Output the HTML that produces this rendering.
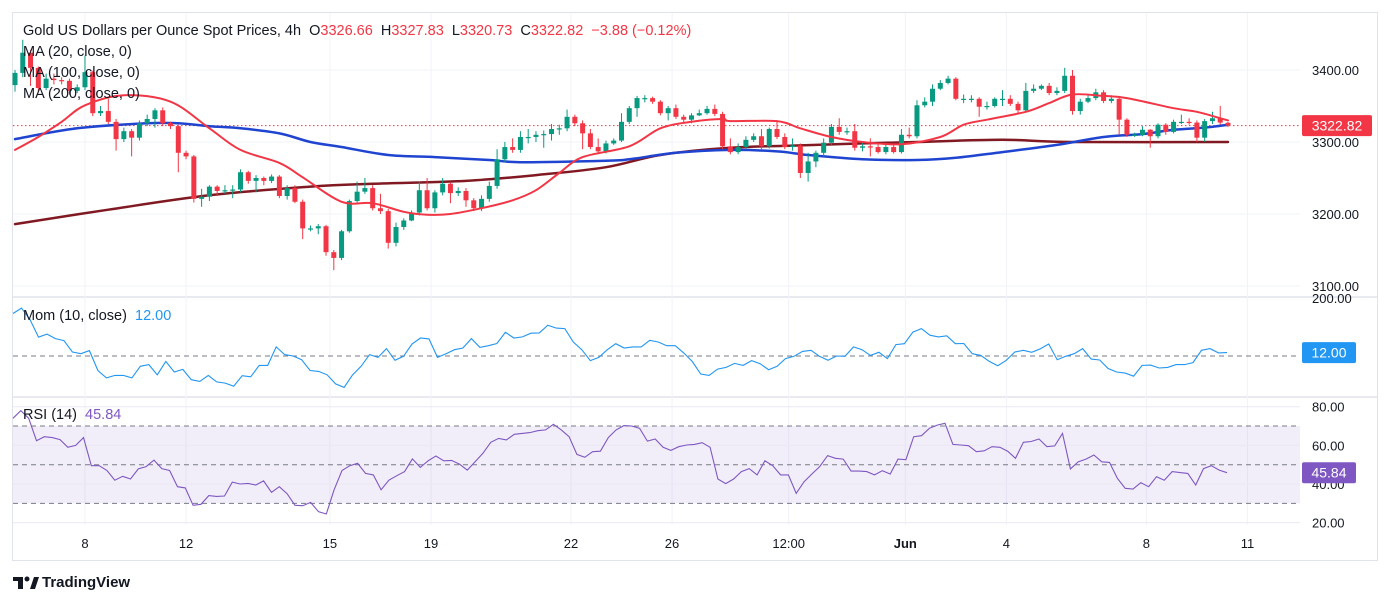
<!DOCTYPE html>
<html><head><meta charset="utf-8"><style>
body{margin:0;background:#fff;width:1390px;height:605px;overflow:hidden;font-family:"Liberation Sans",sans-serif;}
#wrap{position:relative;width:1390px;height:605px;}
svg text{font-family:"Liberation Sans",sans-serif;}
.lg{position:absolute;left:23px;font-size:14.5px;color:#131722;white-space:nowrap;}
.r{color:#f23645}
</style></head><body>
<div id="wrap">
<svg id="chart" width="1390" height="605"></svg>
<div class="lg" style="top:23px">Gold US Dollars per Ounce Spot Prices, 4h&nbsp;&nbsp;O<span class="r">3326.66</span>&nbsp;&nbsp;H<span class="r">3327.83</span>&nbsp;&nbsp;L<span class="r">3320.73</span>&nbsp;&nbsp;C<span class="r">3322.82</span>&nbsp;&nbsp;<span class="r">−3.88 (−0.12%)</span></div>
<div class="lg" style="top:44px">MA (20, close, 0)</div>
<div class="lg" style="top:65px">MA (100, close, 0)</div>
<div class="lg" style="top:86px">MA (200, close, 0)</div>
<div class="lg" style="top:308px">Mom (10, close)&nbsp;&nbsp;<span style="color:#2196f3">12.00</span></div>
<div class="lg" style="top:407px">RSI (14)&nbsp;&nbsp;<span style="color:#7e57c2">45.84</span></div>
<div style="position:absolute;left:13px;top:574px;height:18px;">
<svg width="26" height="16" style="position:absolute;left:0;top:1px"><rect x="0" y="2" width="10" height="4" fill="#131722"/><rect x="5" y="2" width="5" height="12" fill="#131722"/><circle cx="14" cy="4" r="2.5" fill="#131722"/><polygon points="17,14 21,2 26,2 22,14" fill="#131722"/></svg>
<span style="position:absolute;left:29px;top:0;font-size:15px;font-weight:bold;color:#131722;">TradingView</span></div>
</div>
<script>
const closes=[3396,3424,3403,3375,3388,3386,3385,3371,3376,3397,3340,3343,3328,3304,3315,3306,3326,3332,3344,3326,3322,3285,3280,3221,3224,3238,3232,3233,3234,3258,3246,3250,3246,3252,3225,3236,3217,3180,3180,
3183,3147,3139,3176,3218,3231,3236,3208,3204,3160,3182,3191,3202,3233,3208,3230,3242,3229,3232,3219,3208,3221,3239,3276,3293,3289,3307,3307,3310,3311,3318,3319,3335,3326,3312,3293,3287,
3298,3302,3328,3347,3361,3361,3356,3340,3347,3335,3331,3337,3340,3346,3339,3294,3286,3293,3303,3308,3294,3318,3307,3293,3295,3257,3273,3285,3299,3321,3314,3315,3292,3294,3293,3286,3293,3286,3310,3308,
3351,3356,3374,3382,3388,3360,3360,3360,3349,3350,3360,3360,3353,3344,3371,3374,3378,3368,3371,3392,3343,3356,3361,3369,3357,3360,3331,3310,3310,3317,3308,3324,3314,3328,3328,3327,3306,3329,3333,3327,3322.82];
const opensFirst=3379;
const opensLast=3326.66;
const highs=[3400,3442,3428,3405,3395,3395,3390,3388,3380,3420,3399,3350,3360,3332,3320,3318,3330,3338,3347,3348,3328,3324,3288,3282,3235,3240,3240,3240,3240,3262,3260,3254,3252,3255,3254,3240,3240,3220,3184,
3186,3185,3150,3178,3220,3245,3250,3240,3228,3207,3188,3194,3205,3245,3250,3233,3250,3244,3237,3236,3222,3226,3245,3290,3300,3305,3315,3318,3315,3316,3325,3324,3345,3338,3330,3318,3305,
3302,3305,3340,3350,3364,3365,3363,3358,3350,3352,3338,3340,3345,3350,3352,3342,3305,3298,3308,3312,3318,3320,3330,3312,3305,3298,3285,3288,3305,3325,3333,3320,3325,3300,3305,3297,3296,3297,3318,3320,
3358,3362,3380,3386,3392,3390,3366,3365,3362,3356,3362,3372,3365,3356,3382,3380,3380,3382,3376,3403,3400,3360,3365,3374,3372,3365,3362,3333,3313,3322,3318,3326,3326,3331,3338,3333,3330,3332,3342,3350,3327.83];
const lows=[3370,3390,3378,3370,3372,3380,3380,3366,3368,3372,3336,3336,3325,3288,3300,3280,3302,3322,3320,3322,3318,3258,3276,3216,3210,3218,3225,3228,3222,3230,3242,3230,3240,3243,3222,3220,3215,3165,3176,
3172,3142,3122,3136,3174,3215,3228,3205,3200,3152,3155,3178,3190,3198,3205,3202,3226,3215,3225,3210,3204,3204,3217,3235,3272,3285,3285,3298,3300,3292,3302,3310,3315,3322,3290,3290,3283,
3284,3296,3300,3325,3335,3355,3353,3337,3330,3332,3326,3326,3336,3338,3336,3290,3283,3283,3290,3300,3290,3291,3304,3290,3288,3250,3245,3265,3280,3296,3310,3310,3288,3287,3280,3284,3283,3284,3284,3305,
3305,3348,3350,3372,3380,3358,3354,3355,3335,3345,3348,3350,3350,3340,3342,3368,3372,3365,3365,3368,3338,3338,3354,3358,3354,3354,3310,3307,3307,3308,3292,3305,3310,3312,3325,3324,3300,3300,3325,3324,3320.73];
const ma20Bars=[0,3,6,9,14,20,25,29,34,37,42,46,50,53,56,60,64,67,70,73,79,83,87,91,92,98,101,105,109,114,119,122,125,130,133,136,140,143,149,152,155,156];
const ma20Vals=[3289,3307,3328,3351,3365,3356,3319,3289,3271,3251,3217,3215,3203,3199,3200,3208,3219,3233,3257,3279,3294,3319,3328,3332,3329,3329,3319,3307,3300,3297,3307,3324,3331,3342,3354,3366,3364,3361,3347,3342,3333,3330];
const ma100Bars=[0,8,17,21,25,29,34,38,42,48,54,61,65,76,79,85,92,98,102,109,116,121,127,134,140,145,149,153,156];
const ma100Vals=[3304,3319,3326,3326,3322,3319,3312,3300,3293,3282,3279,3275,3272,3274,3276,3285,3289,3287,3282,3276,3275,3278,3286,3296,3307,3311,3317,3320,3324];
const ma200Bars=[0,12,25,38,46,58,67,76,83,92,100,109,116,127,136,156];
const ma200Vals=[3186,3206,3226,3238,3242,3246,3254,3265,3282,3292,3295,3298,3300,3303,3300,3300];
const momVals=[149,168,128,66,77,61,54,14,8,19,-51,-77,-68,-68,-77,-36,-30,-66,-19,-56,-47,-83,-89,-68,-91,-95,-106,-69,-73,-33,-33,32,5,0,-13,-51,-54,-66,-98,-110,-66,-36,5,-5,26,-15,-1,42,63,60,-5,8,22,28,61,30,36,44,83,63,67,80,81,108,98,96,49,22,-16,-5,22,43,28,32,32,55,49,36,36,11,
-19,-63,-68,-46,-40,-26,-33,-16,-27,-48,-36,-9,-1,16,20,-1,-15,0,-1,32,22,2,13,-9,40,43,84,96,73,67,71,43,44,8,2,-19,-34,-15,14,20,13,25,42,-13,-1,8,26,-11,-14,-44,-56,-60,-71,-33,-32,-42,-40,-30,-30,-23,20,26,11,12];
const rsiVals=[74,78,74,62.4,64.5,64,63,59,60,64,49.5,49.5,47,42,44,42.6,47.8,49,52.4,48,47,38.6,38,29,29.5,34,33.6,33.8,41,40,40.3,39.5,41.6,35.7,38.6,35,29,28.8,30.5,25.7,24.5,37,47,49.5,50.7,45.5,44.7,37,42,44.3,46.4,53,48.6,52,54.5,52,52.2,50.3,47.2,51.5,55.9,61.6,63.6,62.8,65.7,66.2,66.6,67.6,68,70.9,68,64.5,55.3,53.8,56.7,57,64,68,70.2,70,68.8,62.2,63.3,59,57.4,59.3,60.2,
60.5,61.4,59,42.6,40.2,42.6,46.4,48,44.7,52,49.5,44.7,44.7,35.2,41.2,45.2,49,54.7,53.3,52.9,46.7,46.7,46.4,44.7,46.9,45.2,52.9,52.6,64.5,65,68.8,70.5,71.4,60.5,60.2,59.8,56.7,57.2,59.3,59,57,53.3,61.6,62,63.3,59.3,59.7,66.2,47.8,51.5,52.9,55,51.5,51.2,43,37.8,37.4,40.7,38.6,43.8,42,46.4,45.9,45.5,39.5,48,49.5,47.2,45.84];
const priceTicks=[3400,3300,3200,3100];
const rsiTicks=[80,60,40,20];
const rsiLevels=[70,50,30];
const dateLabels=["8","12","15","19","22","26","12:00","Jun","4","8","11"];
const dateBars=[9,22,40.5,53.5,71.5,84.5,99.5,114.5,127.5,145.5,158.5];
const lastPrice=3322.82;
const lastMom=12.00;
const lastRsi=45.84;

const NS="http://www.w3.org/2000/svg";
const svg=document.getElementById('chart');
const X0=15,X1=1228,N=closes.length;
function xOf(i){return X0+i*(X1-X0)/(N-1);}
function yP(p){return 70+(3400-p)*0.72;}
function yM(v){return 356-v*0.285;}
function yR(v){return 406.7+(80-v)*1.933;}
function mk(tag,attrs,parent){const e=document.createElementNS(NS,tag);for(const k in attrs)e.setAttribute(k,attrs[k]);(parent||svg).appendChild(e);return e;}

const frame=mk('rect',{x:12.5,y:12.5,width:1365,height:548,fill:'none',stroke:'#e0e3eb'});


[297,397].forEach(y=>{const l=mk('line',{x1:13,x2:1377,y1:y,y2:y,stroke:'#e0e3eb','stroke-width':1.5});

});

dateBars.forEach((b,i)=>{const x=xOf(b);
const g=mk('line',{x1:x,x2:x,y1:13,y2:525,stroke:'#f0f3fa'});


const t=mk('text',{x:x,y:548,'text-anchor':'middle','font-size':13,fill:'#131722','font-weight':dateLabels[i]==='Jun'?'bold':'normal'});
t.textContent=dateLabels[i];

});

priceTicks.forEach(p=>{const y=yP(p);
const g=mk('line',{x1:13,x2:1300,y1:y,y2:y,stroke:'#f0f3fa'});


const t=mk('text',{x:1312,y:y+5,'font-size':13,fill:'#131722'});t.textContent=p.toFixed(2);

});
const momTop=mk('text',{x:1312,y:303,'font-size':13,fill:'#131722'});momTop.textContent='200.00';



const band=mk('rect',{x:13,y:yR(70),width:1287,height:yR(30)-yR(70),fill:'rgba(126,87,194,0.1)'});


rsiTicks.forEach(v=>{const y=yR(v);
const g=mk('line',{x1:13,x2:1300,y1:y,y2:y,stroke:'#ebe8f3'});


const t=mk('text',{x:1312,y:y+5,'font-size':13,fill:'#131722'});t.textContent=v.toFixed(2);

});
rsiLevels.forEach(v=>{const l=mk('line',{x1:13,x2:1300,y1:yR(v),y2:yR(v),stroke:'#787b86','stroke-dasharray':'5,4'});

});
const zl=mk('line',{x1:13,x2:1300,y1:yM(0),y2:yM(0),stroke:'#787b86','stroke-dasharray':'5,4'});



const lp=mk('line',{x1:13,x2:1300,y1:yP(lastPrice),y2:yP(lastPrice),stroke:'#f23645','stroke-dasharray':'1.5,2.5'});



function maPath(bars,vals,color,w,name){
 const pts=bars.map((b,i)=>[xOf(b),yP(vals[i])]);
 let d='M'+pts[0][0].toFixed(1)+','+pts[0][1].toFixed(1);
 for(let i=0;i<pts.length-1;i++){
  const p0=pts[Math.max(0,i-1)],p1=pts[i],p2=pts[i+1],p3=pts[Math.min(pts.length-1,i+2)];
  const c1x=p1[0]+(p2[0]-p0[0])/6,c1y=p1[1]+(p2[1]-p0[1])/6;
  const c2x=p2[0]-(p3[0]-p1[0])/6,c2y=p2[1]-(p3[1]-p1[1])/6;
  d+='C'+c1x.toFixed(1)+','+c1y.toFixed(1)+' '+c2x.toFixed(1)+','+c2y.toFixed(1)+' '+p2[0].toFixed(1)+','+p2[1].toFixed(1);
 }
 const p=mk('path',{d:d,fill:'none',stroke:color,'stroke-width':w,'stroke-linejoin':'round','stroke-linecap':'round'});
 
 }
maPath(ma200Bars,ma200Vals,'#801922',2.5,'ma200-line');
maPath(ma100Bars,ma100Vals,'#1e44d0',2.5,'ma100-line');

for(let i=0;i<N;i++){
 const o=i===0?opensFirst:(i===N-1?opensLast:closes[i-1]);const c=closes[i];
 const col=c>=o?'#089981':'#f23645';const x=xOf(i);
 const g=mk('g',{});
 
 
 mk('line',{x1:x,x2:x,y1:yP(highs[i]),y2:yP(lows[i]),stroke:col,'stroke-width':1},g);
 const yt=yP(Math.max(o,c)),yb=yP(Math.min(o,c));
 mk('rect',{x:x-2.5,y:yt,width:5,height:Math.max(1.2,yb-yt),fill:col},g);
}
maPath(ma20Bars,ma20Vals,'#f23645',2,'ma20-line');

let d='';const nm=momVals.length;
momVals.forEach((v,i)=>{const x=13+i*(1227-13)/(nm-1);d+=(i?'L':'M')+x.toFixed(1)+','+yM(v).toFixed(1);});
const mp=mk('path',{d:d,fill:'none',stroke:'#2196f3','stroke-width':1.1});


d='';const nr=rsiVals.length;
rsiVals.forEach((v,i)=>{const x=13+i*(1227-13)/(nr-1);d+=(i?'L':'M')+x.toFixed(1)+','+yR(v).toFixed(1);});
const rp=mk('path',{d:d,fill:'none',stroke:'#7e57c2','stroke-width':1.1});



function box(y,w,color,txt,name){const g=mk('g',{});


mk('rect',{x:1302,y:y-10.5,width:w,height:21,rx:2,fill:color},g);
const t=mk('text',{x:1302+w/2,y:y+5,'text-anchor':'middle','font-size':14,fill:'#fff'},g);t.textContent=txt;}
box(yP(lastPrice),70,'#f23645',lastPrice.toFixed(2),'last-price-label');
box(yM(lastMom),54,'#2196f3',lastMom.toFixed(2),'momentum-value-label');
box(yR(lastRsi),54,'#7e57c2',lastRsi.toFixed(2),'rsi-value-label');
</script>
</body></html>
